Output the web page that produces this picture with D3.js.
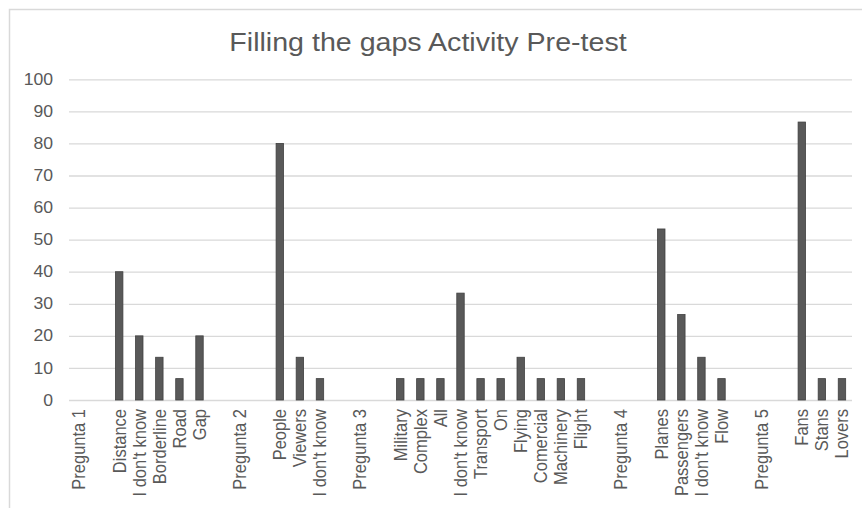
<!DOCTYPE html>
<html>
<head>
<meta charset="utf-8">
<script src="https://cdn.jsdelivr.net/npm/d3@7/dist/d3.min.js"></script>
<style>
  html, body { margin: 0; padding: 0; background: #ffffff; }
  svg { display: block; }
  text { font-family: "Liberation Sans", Arial, sans-serif; fill: #595959; }
</style>
</head>
<body>
<svg id="chart" width="862" height="508"></svg>
<script>
// Answers per question (blank entries are spacer slots between groups)
const categories = [
  "Pregunta 1", "", "Distance", "I don't know", "Borderline", "Road", "Gap", "",
  "Pregunta 2", "", "People", "Viewers", "I don't know", "",
  "Pregunta 3", "", "Military", "Complex", "All", "I don't know", "Transport", "On",
  "Flying", "Comercial", "Machinery", "Flight", "",
  "Pregunta 4", "", "Planes", "Passengers", "I don't know", "Flow", "",
  "Pregunta 5", "", "Fans", "Stans", "Lovers"
];
const values = [
  0, 0, 40, 20, 13.33, 6.67, 20, 0,
  0, 0, 80, 13.33, 6.67, 0,
  0, 0, 6.67, 6.67, 6.67, 33.33, 6.67, 6.67,
  13.33, 6.67, 6.67, 6.67, 0,
  0, 0, 53.33, 26.67, 13.33, 6.67, 0,
  0, 0, 86.67, 6.67, 6.67
];
const yTicks = [0, 10, 20, 30, 40, 50, 60, 70, 80, 90, 100];
const title = "Filling the gaps Activity Pre-test";

const svg = d3.select("#chart");
const W = 862, H = 508;
const plot = { left: 69, right: 852, top: 79.3, bottom: 400 };
const stretch = 1.1; // text is drawn slightly wide

svg.append("rect").attr("width", W).attr("height", H).attr("fill", "#ffffff");

// chart frame
svg.append("rect")
  .attr("x", 9.5).attr("y", 9.5)
  .attr("width", W + 20).attr("height", H + 20)
  .attr("fill", "none").attr("stroke", "#d9d9d9").attr("stroke-width", 1.5);

const x = d3.scaleBand()
  .domain(d3.range(categories.length))
  .range([plot.left, plot.right])
  .paddingInner(0.63).paddingOuter(0.315);

const y = d3.scaleLinear().domain([0, 100]).range([plot.bottom, plot.top]);

// gridlines + y tick labels
const yAxis = d3.axisLeft(y).tickValues(yTicks)
  .tickSize(-(plot.right - plot.left)).tickPadding(16);
const gy = svg.append("g").attr("transform", `translate(${plot.left},0)`).call(yAxis);
gy.select(".domain").remove();
gy.selectAll(".tick line").attr("stroke", "#d9d9d9").attr("stroke-width", 1.3);
gy.selectAll(".tick text")
  .attr("x", -16 / stretch)
  .attr("transform", `scale(${stretch},1)`)
  .attr("font-size", 16).attr("fill", "#595959")
  .style("font-family", "'Liberation Sans', Arial, sans-serif");

// bars
svg.append("g").selectAll("rect")
  .data(values.map((v, i) => ({ i, v })).filter(d => d.v > 0))
  .join("rect")
  .attr("x", d => x(d.i))
  .attr("width", x.bandwidth())
  .attr("y", d => y(d.v))
  .attr("height", d => y(0) - y(d.v))
  .attr("fill", "#595959")
  .attr("stroke", "#404040")
  .attr("stroke-width", 0.8);

// category labels, rotated
const xAxis = d3.axisBottom(x).tickFormat(i => categories[i]).tickSize(0).tickPadding(0);
const gx = svg.append("g").attr("transform", `translate(0,${plot.bottom})`).call(xAxis);
gx.select(".domain").remove();
gx.selectAll(".tick text")
  .attr("transform", `scale(${stretch},1) rotate(-90)`)
  .attr("text-anchor", "end")
  .attr("x", -9).attr("y", 0).attr("dy", "0.35em")
  .attr("font-size", 16.5).attr("fill", "#595959")
  .style("font-family", "'Liberation Sans', Arial, sans-serif");

// title
svg.append("g")
  .attr("transform", `translate(428,51) scale(${stretch},1)`)
  .append("text")
  .attr("text-anchor", "middle")
  .attr("font-size", 26)
  .text(title);
</script>
</body>
</html>
